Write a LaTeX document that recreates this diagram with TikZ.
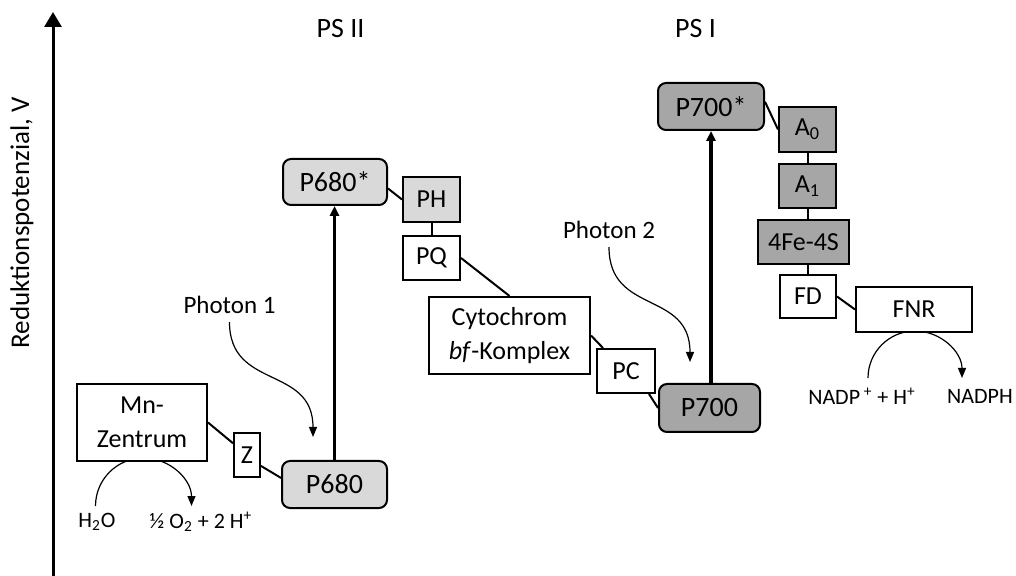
\documentclass[tikz,border=0pt]{standalone}
\usepackage{fontspec}
\setmainfont{Carlito}
\usetikzlibrary{arrows.meta}
\definecolor{lightg}{HTML}{D9D9D9}
\definecolor{darkg}{HTML}{A6A6A6}

\begin{document}
\begin{tikzpicture}[x=0.5pt,y=-0.5pt,
  box/.style={draw,line width=1pt,fill=white,inner sep=0pt,align=center,
    font=\fontsize{13}{17}\selectfont},
  pbox/.style={box,rounded corners=4pt,font=\fontsize{14}{17}\selectfont},
  wh/.style 2 args={minimum width=#1pt,minimum height=#2pt},
  link/.style={line width=1pt},
  lift/.style={line width=1.6pt,-{Triangle[length=5pt,width=4.5pt]}},
  photon/.style={line width=0.6pt,-{Triangle[length=5pt,width=4pt]}},
  lbl/.style={inner sep=1pt,font=\fontsize{12.5}{15}\selectfont},
  chem/.style={inner sep=1pt,font=\fontsize{11}{13}\selectfont}]
  \useasboundingbox (0,0) rectangle (1016,576);
  % axis
  \coordinate (ybot) at (53,576); \coordinate (ytop) at (53,12);
  \draw[line width=1.5pt,-{Triangle[length=7.5pt,width=8.5pt]}] (ybot) -- (ytop);
  \node[lbl,rotate=90,font=\fontsize{13.5}{16}\selectfont] (ylab) at (22,223) {Reduktionspotenzial, V};
  \node[lbl,font=\fontsize{14}{16}\selectfont] (ps2) at (340.5,29) {PS II};
  \node[lbl,font=\fontsize{14}{16}\selectfont] (ps1) at (695.5,29) {PS I};
  % reactions (under the boxes)
  \coordinate (mnin) at (95.5,506); \coordinate (fnrin) at (868,378);
  \draw[photon] (mnin) arc[start angle=180,end angle=360,radius=48];
  \draw[photon] (fnrin) arc[start angle=180,end angle=360,radius=47];
  \node[chem] (h2o) at (97,522) {H\textsubscript{2}O};
  \node[chem] (o2) at (201,522) {½ O\textsubscript{2} + 2 H\textsuperscript{+}};
  \node[chem] (nadp) at (862,396) {NADP\,\textsuperscript{+} + H\textsuperscript{+}};
  \node[chem] (nadph) at (980,396) {NADPH};
  % PS II side
  \node[box,wh={65}{38.5}] (mn) at (142,422.5) {Mn-\\Zentrum};
  \node[box,wh={13}{22}] (z) at (247,455) {Z};
  \node[pbox,fill=lightg,wh={52.5}{23.5}] (p680) at (334.5,484.5) {P680};
  \node[pbox,fill=lightg,wh={52}{23}] (p680s) at (335,182) {P680*};
  \node[box,fill=lightg,wh={28.5}{22.5}] (ph) at (431.5,199.5) {PH};
  \node[box,wh={28.5}{22}] (pq) at (431.5,258) {PQ};
  \node[box,wh={80.5}{38.5}] (cyt) at (509.5,335.5) {Cytochrom\\\textit{bf}-Komplex};
  \node[box,wh={29}{22}] (pc) at (626,371) {PC};
  % PS I side
  \node[pbox,fill=darkg,wh={50.5}{24}] (p700) at (709.5,408) {P700};
  \node[pbox,fill=darkg,wh={53}{23.5}] (p700s) at (711,106.5) {P700*};
  \node[box,fill=darkg,wh={28.5}{22.5}] (a0) at (807.5,129.5) {A\textsubscript{0}};
  \node[box,fill=darkg,wh={28.5}{22}] (a1) at (807.5,186) {A\textsubscript{1}};
  \node[box,fill=darkg,wh={45.5}{22}] (fes) at (803.5,242) {4Fe-4S};
  \node[box,wh={28}{21.5}] (fd) at (808,296.5) {FD};
  \node[box,wh={58}{22.5}] (fnr) at (914,309.5) {FNR};
  % electron path
  \foreach \a/\b in {mn.east/z.140, z.-38/p680.173, p680s.-7/ph.west,
      ph.south/pq.north, pq.east/cyt.north, cyt.east/pc.135, pc.-45/p700.west,
      p700s.5/a0.west, a0.south/a1.north, fd.east/fnr.west}
    \draw[link] (\a) -- (\b);
  \draw[link] (a1.south) -- (a1.south |- fes.north);
  \draw[link] (fd.north |- fes.south) -- (fd.north);
  % excitation
  \draw[lift] (p680.north) -- (p680.north |- p680s.south);
  \draw[lift] (p700s.south |- p700.north) -- (p700s.south);
  % photons
  \node[lbl] (ph1) at (229.5,305) {Photon 1};
  \node[lbl] (ph2) at (609,230) {Photon 2};
  \coordinate (hit1) at (313,437); \coordinate (hit2) at (690,362);
  \draw[photon] ([yshift=-3pt]ph1.south) .. controls +(0,68) and +(0,-72) .. (hit1);
  \draw[photon] ([yshift=-3pt]ph2.south) .. controls +(0,68) and +(0,-72) .. (hit2);
\end{tikzpicture}
\end{document}
